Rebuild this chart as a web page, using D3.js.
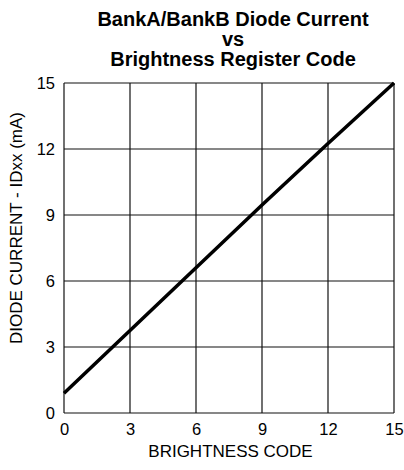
<!DOCTYPE html>
<html>
<head>
<meta charset="utf-8">
<script src="https://cdn.jsdelivr.net/npm/d3@7"></script>
<style>
    body { margin: 0; background: #fff; }
    svg text { font-family: Arial, "Liberation Sans", sans-serif; fill: #000; }
</style>
</head>
<body>
<div id="chart"></div>
<script>
// Chart values
const title_lines = ['BankA/BankB Diode Current', 'vs', 'Brightness Register Code'];
const brightness_codes = [0, 3, 6, 9, 12, 15];
const diode_current = [0.9, 3.75, 6.6, 9.45, 12.25, 15.0];
const x_ticks = [0, 3, 6, 9, 12, 15];
const y_ticks = [0, 3, 6, 9, 12, 15];
const x_label = 'BRIGHTNESS CODE';
const y_label = 'DIODE CURRENT - IDxx (mA)';

const width = 404, height = 470;
const margin = {top: 83, right: 10, bottom: 57, left: 64};

const svg = d3.select('#chart')
    .append('svg')
    .attr('width', width)
    .attr('height', height);

const x = d3.scaleLinear()
    .domain([0, 15])
    .range([margin.left, width - margin.right]);

const y = d3.scaleLinear()
    .domain([0, 15])
    .range([height - margin.bottom, margin.top]);

// Title
svg.append('g')
    .selectAll('text')
    .data(title_lines)
    .join('text')
    .attr('x', 233)
    .attr('y', (d, i) => 26 + i * 20)
    .attr('text-anchor', 'middle')
    .style('font-size', '20px')
    .style('font-weight', 'bold')
    .text(d => d);

// Grid
svg.append('g')
    .selectAll('line')
    .data(x_ticks)
    .join('line')
    .attr('x1', d => x(d))
    .attr('x2', d => x(d))
    .attr('y1', y(0))
    .attr('y2', y(15))
    .attr('stroke', '#111')
    .attr('stroke-width', 1.2);

svg.append('g')
    .selectAll('line')
    .data(y_ticks)
    .join('line')
    .attr('x1', x(0))
    .attr('x2', x(15))
    .attr('y1', d => y(d))
    .attr('y2', d => y(d))
    .attr('stroke', '#111')
    .attr('stroke-width', 1.2);

// Axes: tick labels only, the frame is the grid
const x_axis = svg.append('g')
    .attr('transform', 'translate(0,' + (y(0) + 7) + ')')
    .call(d3.axisBottom(x).tickValues(x_ticks).tickSize(0).tickFormat(d3.format('d')));
x_axis.select('.domain').remove();
x_axis.selectAll('text')
    .style('font-size', '16.5px')
    .style('font-family', 'Arial, "Liberation Sans", sans-serif')
    .attr('fill', '#000');

const y_axis = svg.append('g')
    .attr('transform', 'translate(' + (x(0) - 6) + ',0)')
    .call(d3.axisLeft(y).tickValues(y_ticks).tickSize(0).tickFormat(d3.format('d')));
y_axis.select('.domain').remove();
y_axis.selectAll('text')
    .style('font-size', '16.5px')
    .style('font-family', 'Arial, "Liberation Sans", sans-serif')
    .attr('fill', '#000');

// Axis labels
svg.append('text')
    .attr('x', 230.5)
    .attr('y', 457)
    .attr('text-anchor', 'middle')
    .style('font-size', '17px')
    .text(x_label);

svg.append('text')
    .attr('transform', 'translate(22,228) rotate(-90)')
    .attr('text-anchor', 'middle')
    .style('font-size', '17px')
    .text(y_label);

// Current line
const line = d3.line()
    .x((d, i) => x(brightness_codes[i]))
    .y(d => y(d));

svg.append('path')
    .datum(diode_current)
    .attr('d', line)
    .attr('fill', 'none')
    .attr('stroke', '#000')
    .attr('stroke-width', 3.5);
</script>
</body>
</html>
